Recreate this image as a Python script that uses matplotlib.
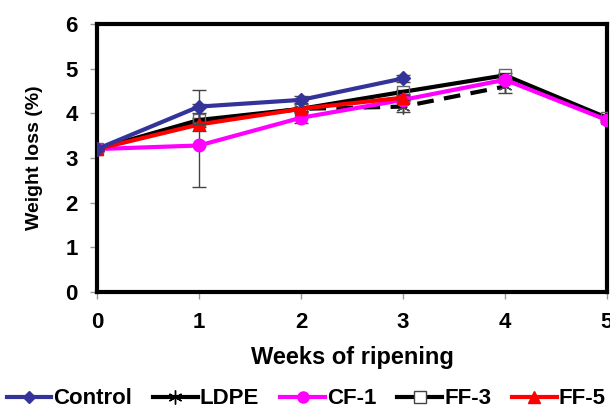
import matplotlib.pyplot as plt
from matplotlib.lines import Line2D

plt.rcParams['font.family'] = ['Liberation Sans', 'DejaVu Sans']
plt.rcParams['font.weight'] = 'bold'

weeks = [0, 1, 2, 3, 4, 5]

control = [3.2, 4.15, 4.3, 4.78]
control_err = [0.05, 0.38, 0.08, 0.08]

ldpe = [3.2, 3.8, 4.1, 4.15, 4.6]
ldpe_err = [0.05, 0.2, 0.1, 0.12, 0.15]

cf1 = [3.2, 3.28, 3.9, 4.3, 4.75, 3.85]
cf1_err = [0.05, 0.92, 0.12, 0.08, 0.08, 0.05]

ff3 = [3.2, 3.85, 4.1, 4.48, 4.85, 3.9]
ff3_err = [0.05, 0.05, 0.05, 0.05, 0.05, 0.05]

ff5 = [3.2, 3.75, 4.1, 4.35]
ff5_err = [0.05, 0.05, 0.05, 0.05]

fig = plt.figure(figsize=(6.1, 4.12), dpi=100)
ax = fig.add_axes([0.159, 0.291, 0.836, 0.651])

ax.errorbar(weeks[:len(ldpe)], ldpe, yerr=ldpe_err, color='black', lw=3, ls=(0, (4, 2.5)),
            marker=(6, 2, 0), ms=10, mew=1, mec='#444444', ecolor='#444444', elinewidth=1,
            capsize=5, zorder=2)
ax.errorbar(weeks[:len(ff3)], ff3, yerr=ff3_err, color='black', lw=3, marker='s', ms=9,
            mfc='none', mec='#666666', mew=1, ecolor='#444444', elinewidth=1, capsize=5,
            zorder=3)
ax.errorbar(weeks[:len(cf1)], cf1, yerr=cf1_err, color='#ff00ff', lw=3, marker='o', ms=9,
            ecolor='#444444', elinewidth=1, capsize=5, zorder=4)
ax.errorbar(weeks[:len(ff5)], ff5, yerr=ff5_err, color='#ff0000', lw=3, marker='^', ms=9,
            ecolor='#444444', elinewidth=1, capsize=5, zorder=5)
ax.errorbar(weeks[:len(control)], control, yerr=control_err, color='#333399', lw=3, marker='D',
            ms=7, ecolor='#444444', elinewidth=1, capsize=5, zorder=6)

ax.set_xlim(0, 5)
ax.set_ylim(0, 6)
ax.set_xticks(weeks)
ax.set_yticks(range(7))
for s in ax.spines.values():
    s.set_linewidth(3)
ax.tick_params(direction='out', length=5, width=1, color='#999999', labelsize=16, pad=9)
ax.set_xlabel('Weeks of ripening', fontsize=17, fontweight='bold', labelpad=10)
ax.set_ylabel('Weight loss (%)', fontsize=14, fontweight='bold', labelpad=16)

handles = [
    Line2D([], [], color='#333399', lw=3, marker='D', ms=6),
    Line2D([], [], color='black', lw=3, marker=(6, 2, 0), ms=10, mew=1),
    Line2D([], [], color='#ff00ff', lw=3, marker='o', ms=8),
    Line2D([], [], color='black', lw=3, marker='s', ms=8, mfc='white', mec='#444444', mew=1),
    Line2D([], [], color='#ff0000', lw=3, marker='^', ms=8),
]
labels = ['Control', 'LDPE', 'CF-1', 'FF-3', 'FF-5']
fig.legend(handles, labels, loc='lower center', bbox_to_anchor=(0.502, -0.015),
           ncol=5, frameon=False, fontsize=16, handlelength=2.0, handletextpad=0.1,
           columnspacing=0.95, borderaxespad=0)

fig.savefig('out.png', dpi=100)
